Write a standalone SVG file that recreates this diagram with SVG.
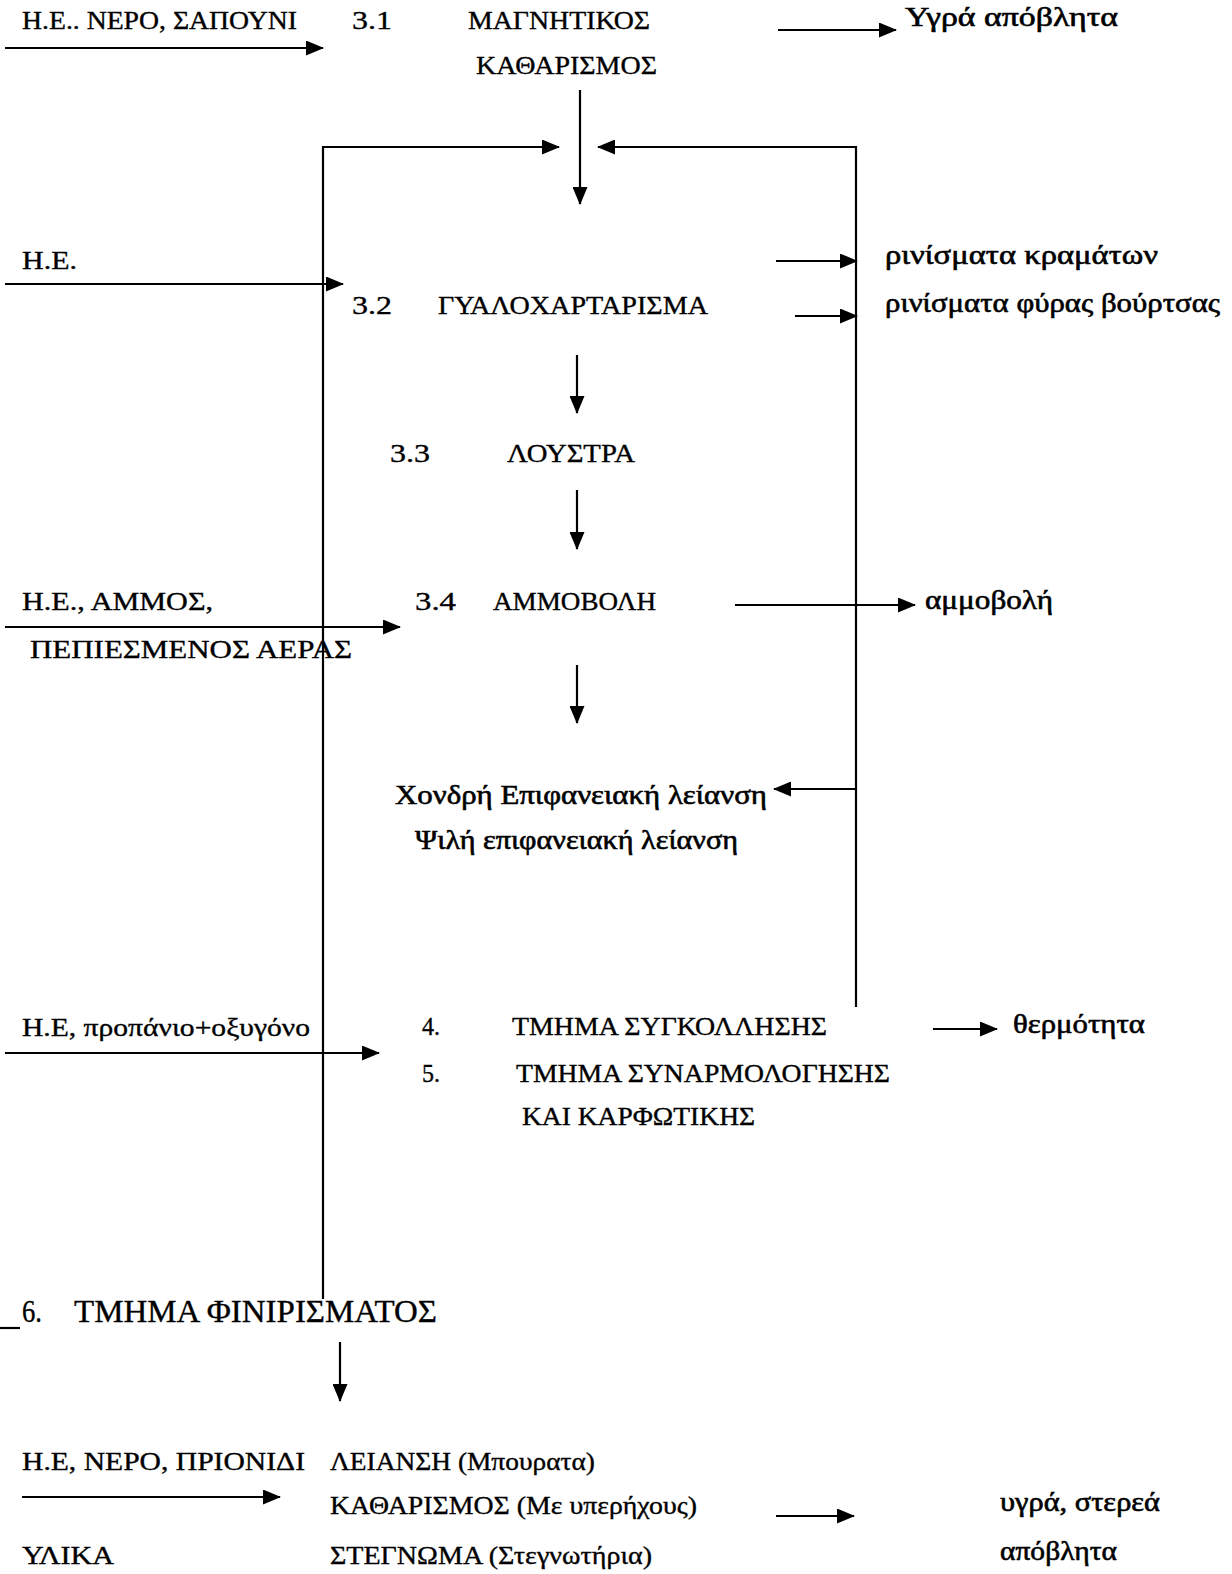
<svg xmlns="http://www.w3.org/2000/svg" width="1232" height="1574" viewBox="0 0 1232 1574">
<style>
text{font-family:"Liberation Serif","Times New Roman",serif;font-size:26px;fill:#000;stroke:#000;stroke-width:0.35}
.lc{font-size:27px;stroke-width:0.6}
.big{font-size:31px}
.c line,.c path{stroke:#000;stroke-width:2.2;fill:none}
</style>
<defs>
<marker id="ah" viewBox="0 0 18 15" refX="17" refY="7.5" markerWidth="18" markerHeight="15" markerUnits="userSpaceOnUse" orient="auto">
<path d="M0,0 L18,7.5 L0,15 Z" fill="#000"/>
</marker>
</defs>
<rect width="1232" height="1574" fill="#fff"/>
<g class="c" id="connectors">
<line x1="5" y1="48" x2="323" y2="48" marker-end="url(#ah)"/>
<line x1="778" y1="30" x2="896" y2="30" marker-end="url(#ah)"/>
<line x1="580" y1="90" x2="580" y2="204" marker-end="url(#ah)"/>
<path d="M323,1299 L323,147 L559,147" marker-end="url(#ah)"/>
<path d="M856,1007 L856,147 L598,147" marker-end="url(#ah)"/>
<line x1="5" y1="284" x2="343" y2="284" marker-end="url(#ah)"/>
<line x1="776" y1="261" x2="857" y2="261" marker-end="url(#ah)"/>
<line x1="795" y1="316" x2="857" y2="316" marker-end="url(#ah)"/>
<line x1="577" y1="355" x2="577" y2="413" marker-end="url(#ah)"/>
<line x1="577" y1="490" x2="577" y2="549" marker-end="url(#ah)"/>
<line x1="5" y1="627" x2="400" y2="627" marker-end="url(#ah)"/>
<line x1="735" y1="605" x2="915" y2="605" marker-end="url(#ah)"/>
<line x1="577" y1="665" x2="577" y2="723" marker-end="url(#ah)"/>
<line x1="856" y1="789" x2="774" y2="789" marker-end="url(#ah)"/>
<line x1="5" y1="1053" x2="379" y2="1053" marker-end="url(#ah)"/>
<line x1="933" y1="1029" x2="997" y2="1029" marker-end="url(#ah)"/>
<line x1="340" y1="1342" x2="340" y2="1401" marker-end="url(#ah)"/>
<line x1="22" y1="1497" x2="280" y2="1497" marker-end="url(#ah)"/>
<line x1="776" y1="1516" x2="854" y2="1516" marker-end="url(#ah)"/>
<line x1="0" y1="1328" x2="20" y2="1328"/>
</g>
<g id="n-in1"><text x="22" y="29" textLength="275" lengthAdjust="spacingAndGlyphs">Η.Ε.. ΝΕΡΟ, ΣΑΠΟΥΝΙ</text></g>
<g id="n31">
<text x="352" y="29" textLength="40" lengthAdjust="spacingAndGlyphs">3.1</text>
<text x="468" y="29" textLength="182" lengthAdjust="spacingAndGlyphs">ΜΑΓΝΗΤΙΚΟΣ</text>
<text x="476" y="74" textLength="181" lengthAdjust="spacingAndGlyphs">ΚΑΘΑΡΙΣΜΟΣ</text>
</g>
<g id="n-out1"><text class="lc" x="905" y="26" textLength="213" lengthAdjust="spacingAndGlyphs">Υγρά απόβλητα</text></g>
<g id="n-in2"><text x="22" y="269" textLength="55" lengthAdjust="spacingAndGlyphs">Η.Ε.</text></g>
<g id="n32">
<text x="352" y="314" textLength="40" lengthAdjust="spacingAndGlyphs">3.2</text>
<text x="438" y="314" textLength="270" lengthAdjust="spacingAndGlyphs">ΓΥΑΛΟΧΑΡΤΑΡΙΣΜΑ</text>
</g>
<g id="n-out2">
<text class="lc" x="885" y="264" textLength="273" lengthAdjust="spacingAndGlyphs">ρινίσματα   κραμάτων</text>
<text class="lc" x="885" y="312" textLength="335" lengthAdjust="spacingAndGlyphs">ρινίσματα φύρας βούρτσας</text>
</g>
<g id="n33">
<text x="390" y="462" textLength="40" lengthAdjust="spacingAndGlyphs">3.3</text>
<text x="507" y="462" textLength="128" lengthAdjust="spacingAndGlyphs">ΛΟΥΣΤΡΑ</text>
</g>
<g id="n-in3">
<text x="22" y="610" textLength="191" lengthAdjust="spacingAndGlyphs">Η.Ε., ΑΜΜΟΣ,</text>
<text x="30" y="658" textLength="322" lengthAdjust="spacingAndGlyphs">ΠΕΠΙΕΣΜΕΝΟΣ  ΑΕΡΑΣ</text>
</g>
<g id="n34">
<text x="415" y="610" textLength="41" lengthAdjust="spacingAndGlyphs">3.4</text>
<text x="493" y="610" textLength="163" lengthAdjust="spacingAndGlyphs">ΑΜΜΟΒΟΛΗ</text>
</g>
<g id="n-out3"><text class="lc" x="925" y="609" textLength="128" lengthAdjust="spacingAndGlyphs">αμμοβολή</text></g>
<g id="n-leiansi">
<text class="lc" x="395" y="804" textLength="372" lengthAdjust="spacingAndGlyphs">Χονδρή Επιφανειακή λείανση</text>
<text class="lc" x="415" y="849" textLength="323" lengthAdjust="spacingAndGlyphs">Ψιλή επιφανειακή λείανση</text>
</g>
<g id="n-in4"><text x="22" y="1036" textLength="288" lengthAdjust="spacingAndGlyphs">Η.Ε, προπάνιο+οξυγόνο</text></g>
<g id="n45">
<text x="422" y="1035" textLength="18" lengthAdjust="spacingAndGlyphs">4.</text>
<text x="512" y="1035" textLength="315" lengthAdjust="spacingAndGlyphs">ΤΜΗΜΑ ΣΥΓΚΟΛΛΗΣΗΣ</text>
<text x="422" y="1082" textLength="18" lengthAdjust="spacingAndGlyphs">5.</text>
<text x="516" y="1082" textLength="374" lengthAdjust="spacingAndGlyphs">ΤΜΗΜΑ ΣΥΝΑΡΜΟΛΟΓΗΣΗΣ</text>
<text x="522" y="1125" textLength="233" lengthAdjust="spacingAndGlyphs">ΚΑΙ ΚΑΡΦΩΤΙΚΗΣ</text>
</g>
<g id="n-out4"><text class="lc" x="1013" y="1033" textLength="132" lengthAdjust="spacingAndGlyphs">θερμότητα</text></g>
<g id="n6">
<text class="big" x="22" y="1322" textLength="20" lengthAdjust="spacingAndGlyphs">6.</text>
<text class="big" x="74" y="1322" textLength="363" lengthAdjust="spacingAndGlyphs">ΤΜΗΜΑ ΦΙΝΙΡΙΣΜΑΤΟΣ</text>
</g>
<g id="n-in5">
<text x="22" y="1470" textLength="283" lengthAdjust="spacingAndGlyphs">Η.Ε, ΝΕΡΟ, ΠΡΙΟΝΙΔΙ</text>
<text x="22" y="1564" textLength="92" lengthAdjust="spacingAndGlyphs">ΥΛΙΚΑ</text>
</g>
<g id="n-final">
<text x="330" y="1470" textLength="265" lengthAdjust="spacingAndGlyphs">ΛΕΙΑΝΣΗ (Μπουρατα)</text>
<text x="330" y="1514" textLength="367" lengthAdjust="spacingAndGlyphs">ΚΑΘΑΡΙΣΜΟΣ (Με υπερήχους)</text>
<text x="330" y="1564" textLength="322" lengthAdjust="spacingAndGlyphs">ΣΤΕΓΝΩΜΑ (Στεγνωτήρια)</text>
</g>
<g id="n-out5">
<text class="lc" x="1000" y="1511" textLength="160" lengthAdjust="spacingAndGlyphs">υγρά, στερεά</text>
<text class="lc" x="1000" y="1560" textLength="117" lengthAdjust="spacingAndGlyphs">απόβλητα</text>
</g>
</svg>
